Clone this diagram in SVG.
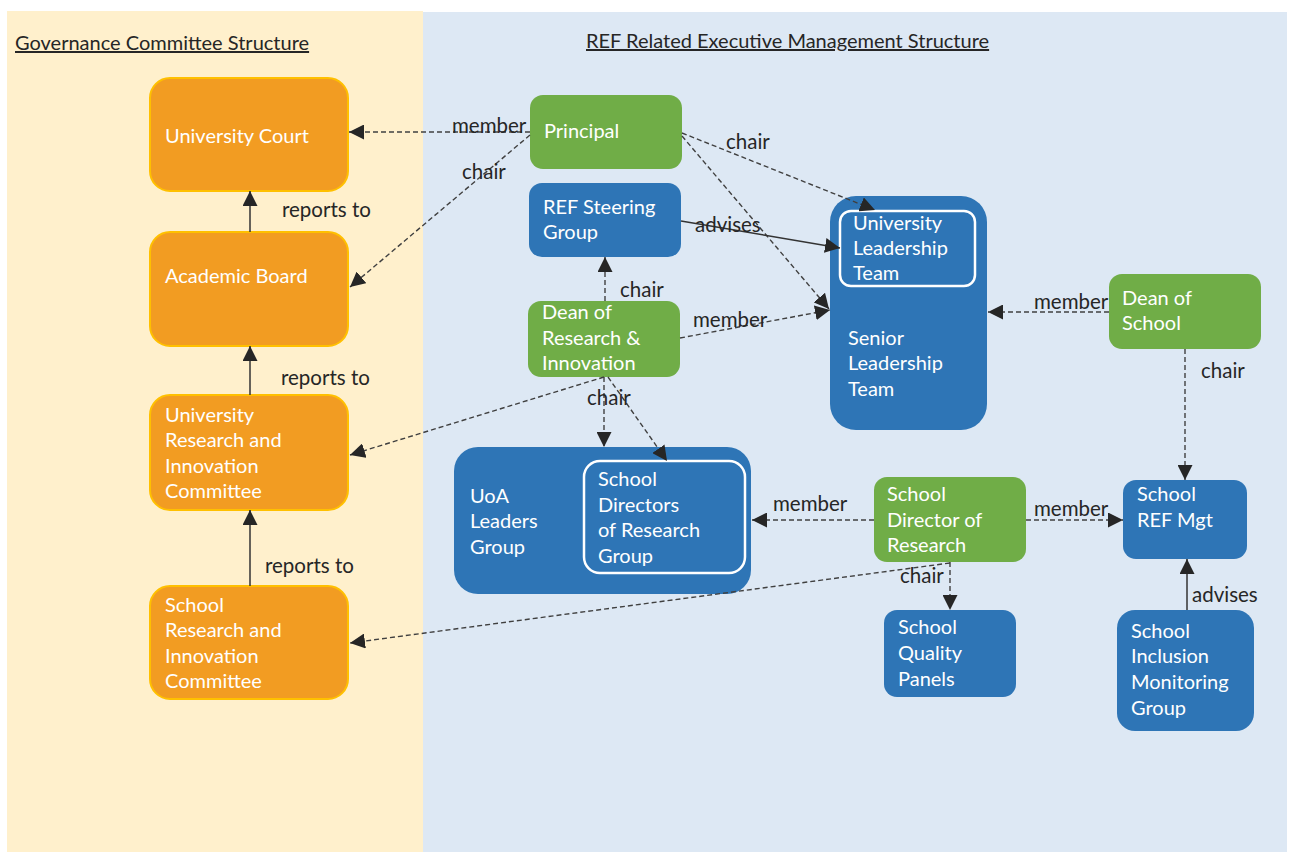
<svg xmlns="http://www.w3.org/2000/svg" width="1292" height="852" viewBox="0 0 1292 852">
  <style>
    .gov { fill: #F29C22; stroke: #FFC000; stroke-width: 2; }
    .exec-g { fill: #70AD47; }
    .exec-b { fill: #2E75B6; }
    .inner { fill: none; stroke: #FFFFFF; stroke-width: 2.5; }
    .nt { font-family: Lato, "Open Sans", "Liberation Sans", sans-serif; font-size: 20px; fill: #FFFFFF; }
    .lbl { font-family: Lato, "Open Sans", "Liberation Sans", sans-serif; font-size: 20.5px; fill: #262626; }
    .title { font-family: Lato, "Open Sans", "Liberation Sans", sans-serif; font-size: 20px; fill: #262626; text-decoration: underline; }
    .solid { fill: none; stroke: #333333; stroke-width: 1.5; marker-end: url(#arr); }
    .dash { fill: none; stroke: #404040; stroke-width: 1.4; stroke-dasharray: 5 3; marker-end: url(#arr); }
  </style>
  <defs>
    <marker id="arr" markerUnits="userSpaceOnUse" markerWidth="16" markerHeight="15" refX="15" refY="7.5" orient="auto">
      <path d="M0,0 L15,7.5 L0,15 z" fill="#262626"/>
    </marker>
  </defs>

  <!-- panels -->
  <rect x="7" y="11" width="416" height="841" fill="#FFF0CC"/>
  <rect x="423" y="12" width="864" height="840" fill="#DDE8F4"/>
  <text class="title" x="15" y="50">Governance Committee Structure</text>
  <text class="title" x="586" y="48">REF Related Executive Management Structure</text>

  <!-- governance nodes -->
  <g id="university-court">
    <rect class="gov" x="150" y="78" width="198" height="113" rx="20"/>
    <text class="nt" x="165" y="143">University Court</text>
  </g>
  <g id="academic-board">
    <rect class="gov" x="150" y="232" width="198" height="114" rx="20"/>
    <text class="nt" x="165" y="283">Academic Board</text>
  </g>
  <g id="uric">
    <rect class="gov" x="150" y="395" width="198" height="115" rx="20"/>
    <text class="nt" x="165" y="422">University</text>
    <text class="nt" x="165" y="447">Research and</text>
    <text class="nt" x="165" y="473">Innovation</text>
    <text class="nt" x="165" y="498">Committee</text>
  </g>
  <g id="sric">
    <rect class="gov" x="150" y="586" width="198" height="113" rx="20"/>
    <text class="nt" x="165" y="612">School</text>
    <text class="nt" x="165" y="637">Research and</text>
    <text class="nt" x="165" y="663">Innovation</text>
    <text class="nt" x="165" y="688">Committee</text>
  </g>

  <!-- executive nodes -->
  <g id="principal">
    <rect class="exec-g" x="530" y="95" width="152" height="74" rx="13"/>
    <text class="nt" x="544" y="138">Principal</text>
  </g>
  <g id="ref-steering-group">
    <rect class="exec-b" x="529" y="183" width="152" height="74" rx="13"/>
    <text class="nt" x="543" y="214">REF Steering</text>
    <text class="nt" x="543" y="239">Group</text>
  </g>
  <g id="dean-research">
    <rect class="exec-g" x="528" y="301" width="152" height="76" rx="13"/>
    <text class="nt" x="542" y="319">Dean of</text>
    <text class="nt" x="542" y="345">Research &amp;</text>
    <text class="nt" x="542" y="370">Innovation</text>
  </g>
  <g id="senior-leadership-team">
    <rect class="exec-b" x="830" y="196" width="157" height="234" rx="26"/>
    <rect class="inner" x="840" y="211" width="135" height="75" rx="11"/>
    <text class="nt" x="853" y="230">University</text>
    <text class="nt" x="853" y="255">Leadership</text>
    <text class="nt" x="853" y="280">Team</text>
    <text class="nt" x="848" y="345">Senior</text>
    <text class="nt" x="848" y="370">Leadership</text>
    <text class="nt" x="848" y="396">Team</text>
  </g>
  <g id="dean-of-school">
    <rect class="exec-g" x="1109" y="274" width="152" height="75" rx="13"/>
    <text class="nt" x="1122" y="305">Dean of</text>
    <text class="nt" x="1122" y="330">School</text>
  </g>
  <g id="uoa-leaders-group">
    <rect class="exec-b" x="454" y="447" width="297" height="147" rx="24"/>
    <rect class="inner" x="584" y="461" width="161" height="112" rx="16"/>
    <text class="nt" x="470" y="503">UoA</text>
    <text class="nt" x="470" y="528">Leaders</text>
    <text class="nt" x="470" y="554">Group</text>
    <text class="nt" x="598" y="486">School</text>
    <text class="nt" x="598" y="512">Directors</text>
    <text class="nt" x="598" y="537">of Research</text>
    <text class="nt" x="598" y="563">Group</text>
  </g>
  <g id="school-director-research">
    <rect class="exec-g" x="874" y="477" width="152" height="85" rx="13"/>
    <text class="nt" x="887" y="501">School</text>
    <text class="nt" x="887" y="527">Director of</text>
    <text class="nt" x="887" y="552">Research</text>
  </g>
  <g id="school-ref-mgt">
    <rect class="exec-b" x="1123" y="480" width="124" height="79" rx="13"/>
    <text class="nt" x="1137" y="501">School</text>
    <text class="nt" x="1137" y="527">REF Mgt</text>
  </g>
  <g id="school-quality-panels">
    <rect class="exec-b" x="884" y="610" width="132" height="87" rx="13"/>
    <text class="nt" x="898" y="634">School</text>
    <text class="nt" x="898" y="660">Quality</text>
    <text class="nt" x="898" y="686">Panels</text>
  </g>
  <g id="school-inclusion-group">
    <rect class="exec-b" x="1117" y="610" width="137" height="121" rx="18"/>
    <text class="nt" x="1131" y="638">School</text>
    <text class="nt" x="1131" y="663">Inclusion</text>
    <text class="nt" x="1131" y="689">Monitoring</text>
    <text class="nt" x="1131" y="715">Group</text>
  </g>

  <!-- connectors -->
  <g id="connectors">
    <line class="solid" x1="250" y1="232" x2="250" y2="191"/>
    <line class="solid" x1="250" y1="395" x2="250" y2="346"/>
    <line class="solid" x1="250" y1="586" x2="250" y2="510"/>
    <line class="dash" x1="530" y1="132" x2="349" y2="132"/>
    <line class="dash" x1="530" y1="135" x2="350" y2="287"/>
    <line class="dash" x1="682" y1="133" x2="875" y2="210"/>
    <line class="dash" x1="682" y1="136" x2="829" y2="309"/>
    <line class="solid" x1="681" y1="221" x2="840" y2="248"/>
    <line class="dash" x1="605" y1="301" x2="605" y2="257"/>
    <line class="dash" x1="680" y1="338" x2="830" y2="310"/>
    <line class="dash" x1="604" y1="377" x2="350" y2="455"/>
    <line class="dash" x1="604" y1="377" x2="604" y2="447"/>
    <line class="dash" x1="608" y1="377" x2="667" y2="461"/>
    <line class="dash" x1="1109" y1="312" x2="988" y2="312"/>
    <line class="dash" x1="1185" y1="349" x2="1185" y2="480"/>
    <line class="dash" x1="874" y1="520" x2="752" y2="520"/>
    <line class="dash" x1="1026" y1="520" x2="1123" y2="520"/>
    <line class="dash" x1="950" y1="562" x2="950" y2="610"/>
    <line class="dash" x1="950" y1="563" x2="350" y2="643"/>
    <line class="solid" x1="1187" y1="610" x2="1187" y2="559"/>

    <text class="lbl" x="282" y="217">reports to</text>
    <text class="lbl" x="281" y="385">reports to</text>
    <text class="lbl" x="265" y="573">reports to</text>
    <text class="lbl" x="452" y="133">member</text>
    <text class="lbl" x="462" y="179">chair</text>
    <text class="lbl" x="726" y="149">chair</text>
    <text class="lbl" x="695" y="232">advises</text>
    <text class="lbl" x="620" y="297">chair</text>
    <text class="lbl" x="693" y="327">member</text>
    <text class="lbl" x="587" y="405">chair</text>
    <text class="lbl" x="1034" y="309">member</text>
    <text class="lbl" x="1201" y="378">chair</text>
    <text class="lbl" x="773" y="511">member</text>
    <text class="lbl" x="1034" y="516">member</text>
    <text class="lbl" x="900" y="583">chair</text>
    <text class="lbl" x="1192" y="602">advises</text>
  </g>
</svg>
